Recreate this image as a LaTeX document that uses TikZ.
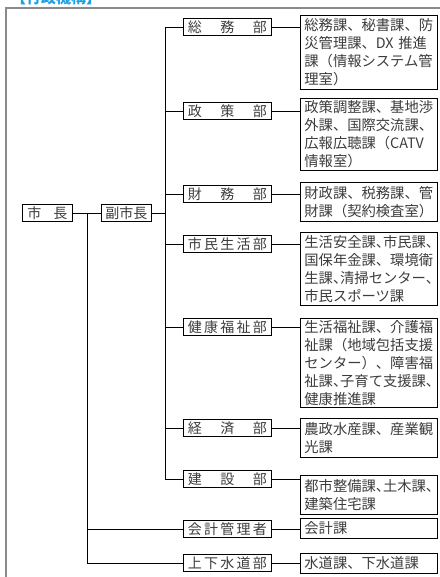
\documentclass[tikz,border=0pt]{standalone}
\usepackage{fontspec}
\setmainfont{Noto Sans CJK JP}
\newfontfamily\cjk{Noto Sans CJK JP}
\newcommand\hten{\makebox[0.5em][l]{、}}
\definecolor{txt}{HTML}{3C3C3C}
\definecolor{frame}{HTML}{8A8A8A}
\definecolor{ttl}{HTML}{1EA0E6}
\tikzset{
  dept/.style={draw=black, line width=0.8pt, anchor=west, inner sep=0pt,
    minimum width=88pt, minimum height=17pt, text=txt,
    font=\fontsize{14}{16}\selectfont},
  unit/.style={draw=black, line width=0.8pt, anchor=north west, inner xsep=4pt, inner ysep=0pt,
    text width=129pt, align=left, minimum width=137pt, text=txt,
    font=\fontsize{14.3}{18}\selectfont},
  conn/.style={draw=black, line width=0.8pt},
}
\begin{document}
\begin{tikzpicture}[x=1pt,y=-1pt]
\useasboundingbox (0,0) rectangle (439,577);
% title (cut off at top, as in the reference)
\node[anchor=base west, inner sep=0pt, text=ttl, font=\fontsize{15}{15}\selectfont\bfseries] (title) at (11,4) {【行政機構】};
% frame
\draw[frame, line width=1.5pt] (6,580) -- (6,8) -- (442,8);
% mayor
\node[dept, minimum width=50pt] (mayor) at (22,213) {\makebox[40pt][s]{市\hfill 長}};
\node[dept, minimum width=50pt] (vice) at (101,213) {副市長};
% departments
\node[dept] (d1) at (183,27) {\makebox[79pt][s]{総\hfill 務\hfill 部}};
\node[dept] (d2) at (183,111) {\makebox[79pt][s]{政\hfill 策\hfill 部}};
\node[dept] (d3) at (183,194) {\makebox[79pt][s]{財\hfill 務\hfill 部}};
\node[dept] (d4) at (183,244) {\makebox[79pt][s]{市\hfill 民\hfill 生\hfill 活\hfill 部}};
\node[dept] (d5) at (183,327) {\makebox[79pt][s]{健\hfill 康\hfill 福\hfill 祉\hfill 部}};
\node[dept] (d6) at (183,428) {\makebox[79pt][s]{経\hfill 済\hfill 部}};
\node[dept] (d7) at (183,479) {\makebox[79pt][s]{建\hfill 設\hfill 部}};
\node[dept] (d8) at (183,529) {\makebox[79pt][s]{会\hfill 計\hfill 管\hfill 理\hfill 者}};
\node[dept] (d9) at (183,563) {\makebox[79pt][s]{上\hfill 下\hfill 水\hfill 道\hfill 部}};
% units
\node[unit, minimum height=74pt] (u1) at (300,15) {総務課、秘書課、防\\災管理課、DX 推進\\課（情報システム管\\理室）};
\node[unit, minimum height=72pt] (u2) at (300,98) {政策調整課、基地渉\\外課、国際交流課、\\広報広聴課（CATV\\情報室）};
\node[unit, minimum height=39pt] (u3) at (300,182) {財政課、税務課、管\\財課（契約検査室）};
\node[unit, minimum height=73pt] (u4) at (300,232) {生活安全課\hten 市民課\hten\\国保年金課、環境衛\\生課\hten 清掃センター\hten\\市民スポーツ課};
\node[unit, minimum height=89pt] (u5) at (300,318) {生活福祉課、介護福\\祉課（地域包括支援\\センター）、障害福\\祉課\hten 子育て支援課\hten\\健康推進課};
\node[unit, minimum height=39pt] (u6) at (300,418) {農政水産課、産業観\\光課};
\node[unit, minimum height=39pt] (u7) at (300,475) {都市整備課\hten 土木課\hten\\建築住宅課};
\node[unit, minimum height=20pt] (u8) at (300,518) {会計課};
\node[unit, minimum height=20pt] (u9) at (300,553) {水道課、下水道課};
% connectors
\foreach \i in {1,...,9} {\draw[conn] (d\i.east) -- (d\i.east -| u\i.west);}
\draw[conn] (mayor.east) -- (vice.west);
\coordinate (t1) at (165,27);
\draw[conn] (d1.west) -- (t1) -- (t1 |- d7.west) -- (d7.west);
\foreach \i in {2,...,6} {\draw[conn] (d\i.west) -- (d\i.west -| t1);}
\draw[conn] (vice.east) -- (vice.east -| t1);
\coordinate (t2) at (87,213);
\draw[conn] (t2) -- (t2 |- d9.west) -- (d9.west);
\draw[conn] (t2 |- d8.west) -- (d8.west);
\end{tikzpicture}
\end{document}
